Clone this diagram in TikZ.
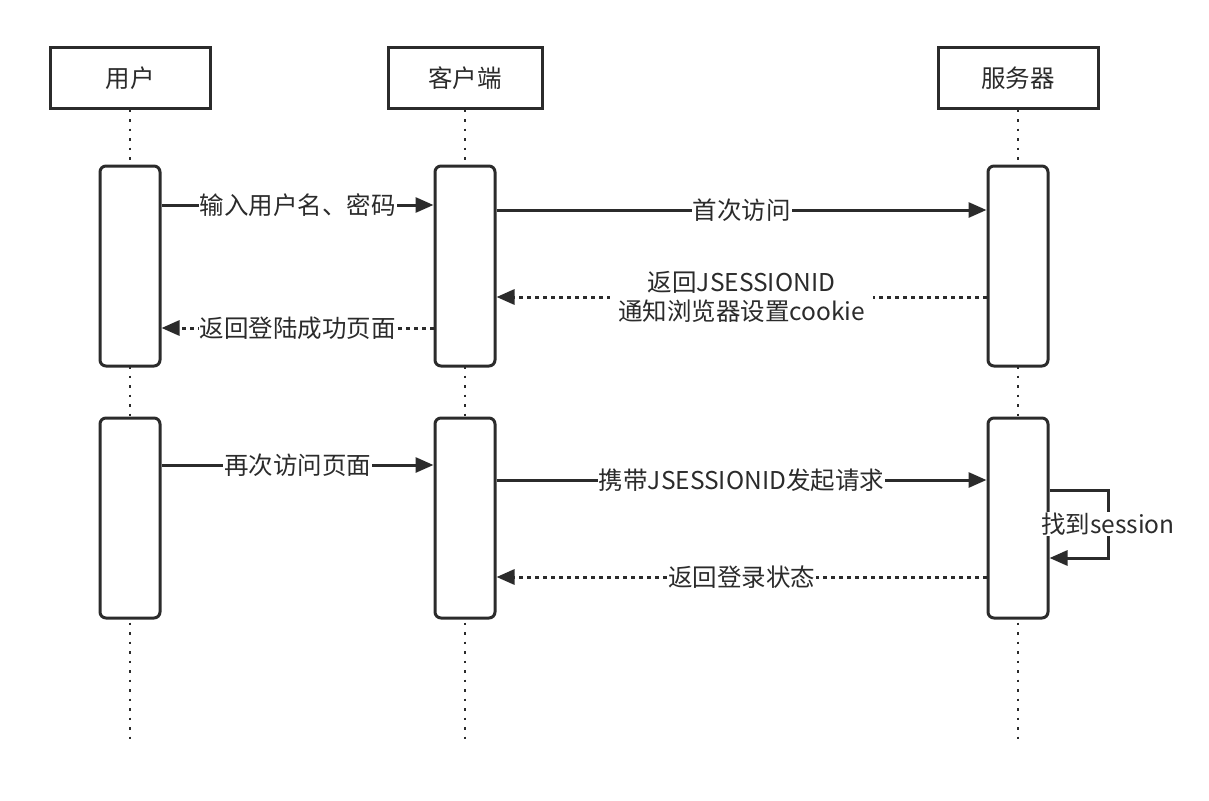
\documentclass[tikz,border=0pt]{standalone}
\usepackage{fontspec}
\setmainfont{Noto Sans CJK SC}
\usetikzlibrary{arrows.meta}
\definecolor{ink}{HTML}{2b2b2b}
\begin{document}
\begin{tikzpicture}[x=1pt,y=-1pt,
  every node/.style={font=\fontsize{24.5}{29}\selectfont,text=ink},
  head/.style={draw=ink,line width=3pt,minimum width=160pt,minimum height=60pt,inner sep=0},
  act/.style={draw=ink,line width=3pt,rounded corners=6pt,minimum width=60pt,minimum height=200pt,inner sep=0},
  life/.style={draw=ink,line width=2.5pt,dash pattern=on 2.5pt off 7pt},
  msg/.style={draw=ink,line width=3pt,-{Triangle[length=18pt,width=15pt]}},
  ret/.style={msg,dash pattern=on 4pt off 4pt},
  lab/.style={fill=white,inner sep=1pt,align=center}]
\useasboundingbox (0,0) rectangle (1209,800);
\node[head] (hu) at (130,78) {用户};
\node[head,minimum width=154pt] (hc) at (465,78) {客户端};
\node[head] (hs) at (1018,78) {服务器};
\coordinate (eu) at (130,745); \coordinate (ec) at (465,745); \coordinate (es) at (1018,745);
\draw[life] (hu.south) -- (eu);
\draw[life] (hc.south) -- (ec);
\draw[life] (hs.south) -- (es);
\node[act,fill=white] (u1) at (130,266) {};
\node[act,fill=white] (u2) at (130,518) {};
\node[act,fill=white] (c1) at (465,266) {};
\node[act,fill=white] (c2) at (465,518) {};
\node[act,fill=white] (s1) at (1018,266) {};
\node[act,fill=white] (s2) at (1018,518) {};
\draw[msg] (u1.east|-0,205) -- node[lab]{输入用户名、密码} (c1.west|-0,205);
\draw[msg] (c1.east|-0,210) -- node[lab]{首次访问} (s1.west|-0,210);
\draw[ret] (s1.west|-0,297) -- node[lab,fill=white,inner xsep=8pt]{返回JSESSIONID\\通知浏览器设置cookie} (c1.east|-0,297);
\draw[ret] (c1.west|-0,328) -- node[lab]{返回登陆成功页面} (u1.east|-0,328);
\draw[msg] (u2.east|-0,465) -- node[lab]{再次访问页面} (c2.west|-0,465);
\draw[msg] (c2.east|-0,480) -- node[lab]{携带JSESSIONID发起请求} (s2.west|-0,480);
\draw[msg] (s2.east|-0,490) -- (1108,490) -- node[lab]{找到session} (1108,558) -- (s2.east|-0,558);
\draw[ret] (s2.west|-0,577) -- node[lab]{返回登录状态} (c2.east|-0,577);
\end{tikzpicture}
\end{document}
